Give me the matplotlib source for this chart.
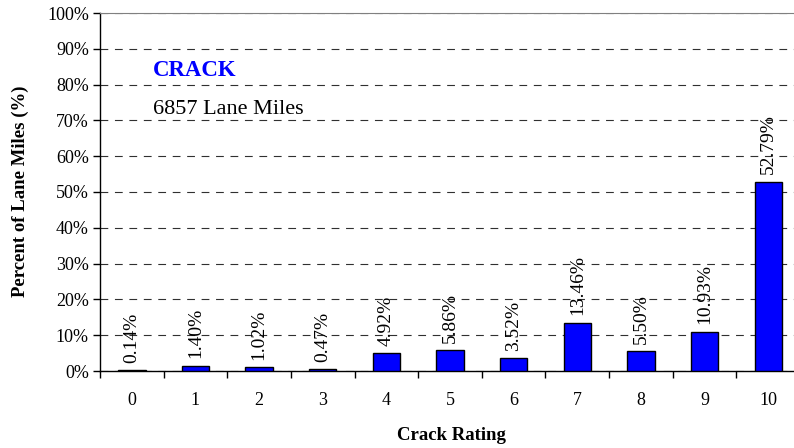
import numpy as np
import matplotlib
matplotlib.use("Agg")
import matplotlib.pyplot as plt
from matplotlib.ticker import FixedLocator, PercentFormatter

plt.rcParams['font.family'] = ['Liberation Serif', 'DejaVu Serif']

ratings = [0, 1, 2, 3, 4, 5, 6, 7, 8, 9, 10]
percents = [0.14, 1.40, 1.02, 0.47, 4.92, 5.86, 3.52, 13.46, 5.50, 10.93, 52.79]
labels = ["0.14%", "1.40%", "1.02%", "0.47%", "4.92%", "5.86%", "3.52%",
          "13.46%", "5.50%", "10.93%", "52.79%"]

fig = plt.figure(figsize=(7.94, 4.48), dpi=100)
# axes runs slightly past the right edge, as in the original crop
ax = fig.add_axes([100/794, 1 - 371/448, 700/794, 358/448])

x = np.arange(len(ratings))
ax.bar(x, percents, width=0.43, color="#0000ff", edgecolor="black", linewidth=1, zorder=3)

for xi, v, lab in zip(x, percents, labels):
    ax.text(xi, v + 2.1, lab, rotation=90, ha="center", va="bottom", fontsize=14, zorder=4)

ax.set_xlim(-0.5, len(ratings) - 0.5)
ax.set_ylim(0, 100)
ax.set_yticks(np.arange(0, 101, 10))
ax.yaxis.set_major_formatter(PercentFormatter(decimals=0))
ax.set_xticks(x)
ax.set_xticklabels([str(r) for r in ratings])
ax.xaxis.set_minor_locator(FixedLocator(np.arange(-0.5, len(ratings), 1)))
ax.tick_params(axis="x", which="major", length=0, pad=15, labelsize=13)
ax.tick_params(axis="x", which="minor", length=5, width=1, direction="out")
ax.tick_params(axis="y", length=5, width=1, direction="out", labelsize=13, pad=3)

ax.yaxis.grid(True, linestyle=(0, (7, 6)), color="#303030", linewidth=0.8, zorder=0)
ax.set_axisbelow(True)
ax.spines["right"].set_visible(False)
ax.spines["top"].set_color("#808080")
ax.spines["left"].set_linewidth(1)
ax.spines["bottom"].set_linewidth(1)

ax.text(0.33, 84, "CRACK", color="#0000ff", fontsize=16.5, fontweight="bold", va="center")
ax.text(0.33, 73, "6857 Lane Miles", fontsize=16, va="center")

fig.text(20/794, 1 - 191/448, "Percent of Lane Miles (%)", fontsize=13.5,
         fontweight="bold", rotation=90, ha="center", va="center")
fig.text(451/794, 1 - 435/448, "Crack Rating", fontsize=13.5, fontweight="bold",
         ha="center", va="center")

fig.savefig("out.png", dpi=100)
